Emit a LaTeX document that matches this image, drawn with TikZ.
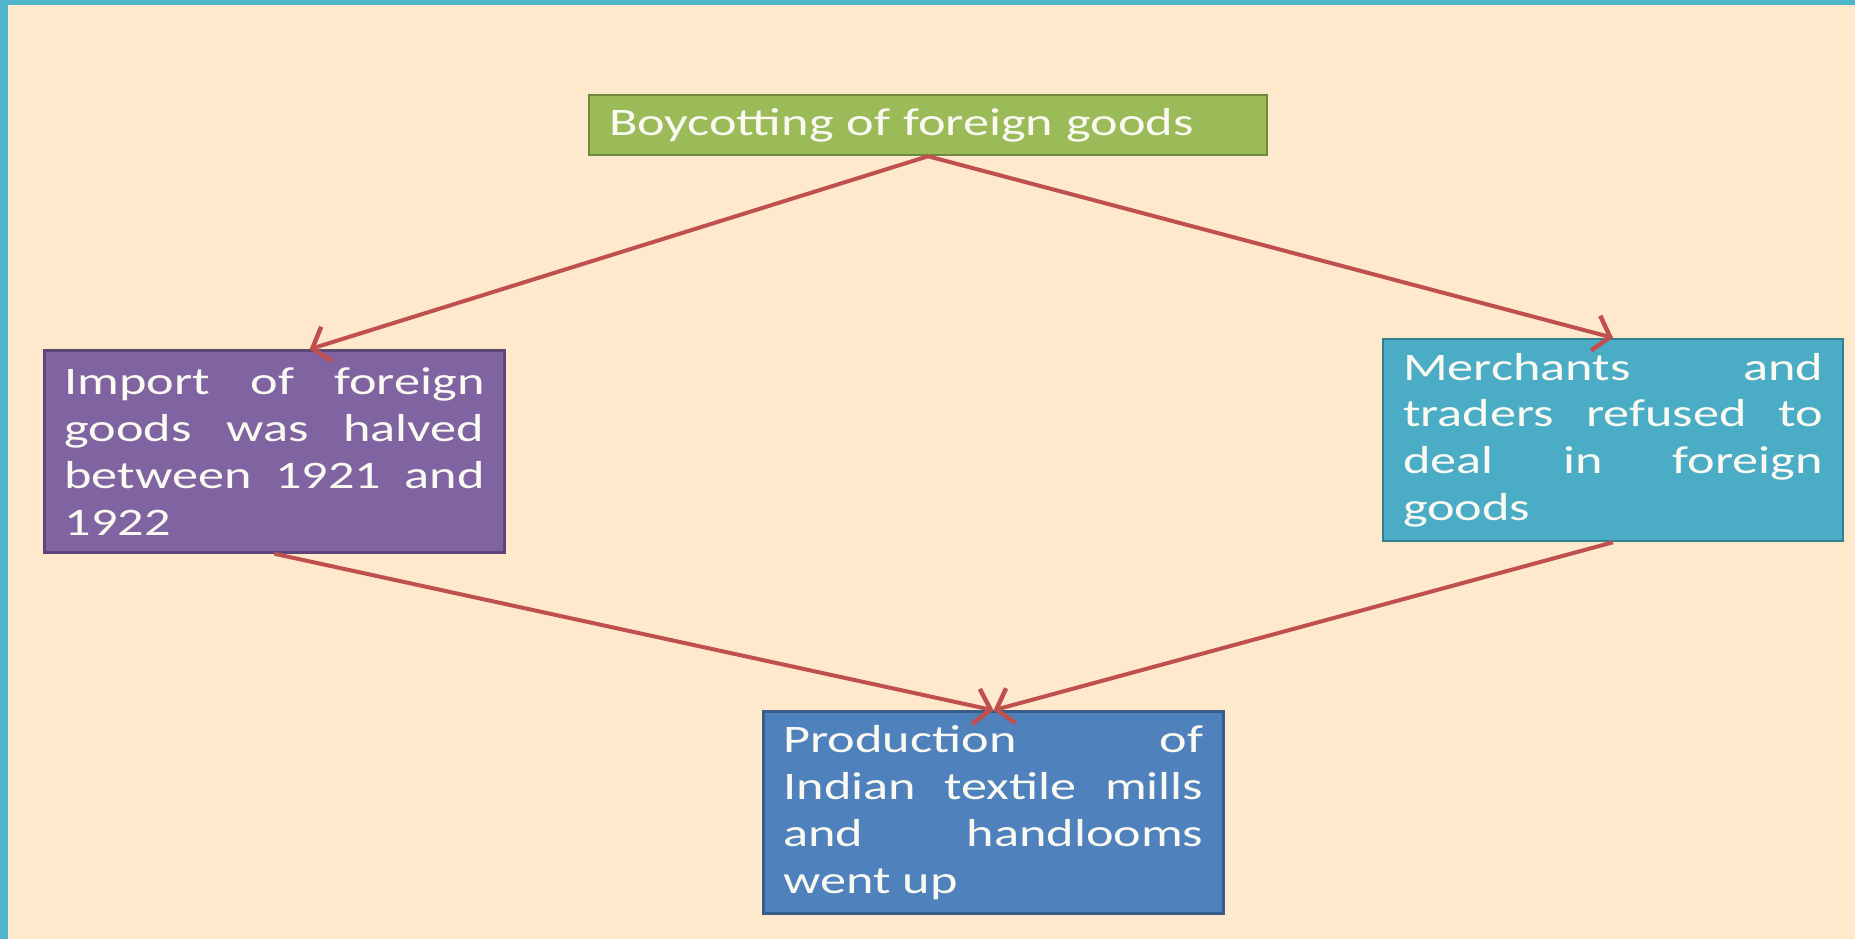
\documentclass[tikz,border=0pt]{standalone}
\usepackage{fontspec}
\setmainfont{Carlito}[FakeStretch=1.34]
\usetikzlibrary{
  arrows.meta % For arrow tips
}

\definecolor{bgcream}{HTML}{FFE9CC}
\definecolor{frameteal}{HTML}{4FB5CA}
\definecolor{greenfill}{HTML}{9BBB59}
\definecolor{greenline}{HTML}{71893F}
\definecolor{purplefill}{HTML}{8064A2}
\definecolor{purpleline}{HTML}{5C4776}
\definecolor{tealfill}{HTML}{4BACC6}
\definecolor{tealline}{HTML}{357D91}
\definecolor{bluefill}{HTML}{4F81BD}
\definecolor{blueline}{HTML}{385D8A}
\definecolor{arrowred}{HTML}{C0504D}
\definecolor{textwhite}{HTML}{FBFAF2}

\begin{document}
\begin{tikzpicture}[
    x=0.1mm, y=-0.1mm, % one unit = one pixel of the slide
    box/.style={draw, line width=0.25mm, text=textwhite,
      font=\fontsize{11.1}{13.3}\selectfont,
      inner xsep=2mm, inner ysep=0pt},
    fourline/.style={box, text width=42mm, align=justify, minimum height=20.2mm},
    link/.style={draw=arrowred, line width=0.4mm,
      -{Straight Barb[length=1.5mm, width=3.6mm, line width=0.45mm]}},
  ]

  % Hintergrund und Rahmen
  \useasboundingbox (0,0) rectangle (1855,939);
  \fill[bgcream] (0,0) rectangle (1855,939);
  \fill[frameteal] (0,0) rectangle (1855,5);
  \fill[frameteal] (0,0) rectangle (8,939);

  % Kästen
  \node[box, fill=greenfill, draw=greenline, text width=63.8mm, align=left,
    minimum height=6mm] (boycott) at (928,125)
    {Boycotting of foreign goods};
  \node[fourline, fill=purplefill, draw=purpleline] (imports) at (274.5,451.5)
    {Import of foreign\linebreak goods was halved\linebreak between 1921 and\linebreak 1922};
  \node[fourline, fill=tealfill, draw=tealline] (merchants) at (1613,440)
    {Merchants and\linebreak traders refused to\linebreak deal in foreign\linebreak goods};
  \node[fourline, fill=bluefill, draw=blueline] (production) at (993.5,812.5)
    {Production of\linebreak Indian textile mills\linebreak and handlooms\linebreak went up};

  % Pfeile
  \draw[link] (boycott.south) -- ([xshift=3.5mm]imports.north);
  \draw[link] (boycott.south) -- (merchants.north);
  \draw[link] (imports.south) -- (production.north);
  \draw[link] (merchants.south) -- (production.north);

\end{tikzpicture}
\end{document}
